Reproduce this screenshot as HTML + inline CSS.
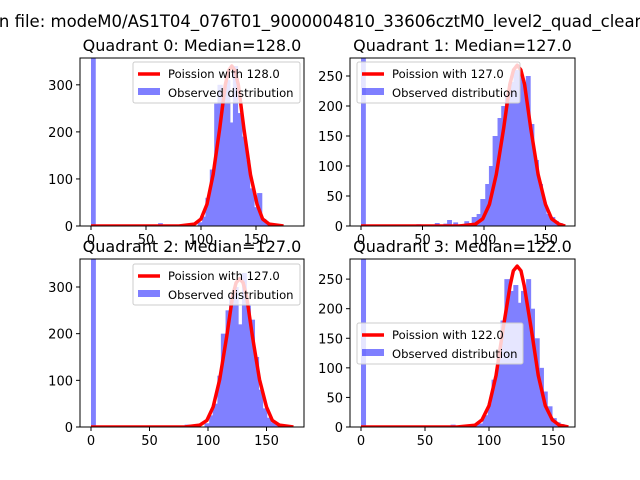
<!DOCTYPE html>
<html><head><meta charset="utf-8"><style>body{margin:0;background:#fff}svg{display:block;font-family:"DejaVu Sans","Liberation Sans",sans-serif}</style></head>
<body>
<svg id="c" width="640" height="480" xmlns="http://www.w3.org/2000/svg">
<rect width="640" height="480" fill="#fff"/>
<text x="-6" y="27" font-size="16.5" fill="#000">In file: modeM0/AS1T04_076T01_9000004810_33606cztM0_level2_quad_clean.evt</text>
</svg>
<script>
const titles=["Quadrant 0: Median=128.0","Quadrant 1: Median=127.0","Quadrant 2: Median=127.0","Quadrant 3: Median=122.0"];
const legendLabels=["Poission with 128.0","Poission with 127.0","Poission with 127.0","Poission with 122.0"];
const xTicks=[0,50,100,150];
const yTicks0=[0,100,200,300];
const yTicks1=[0,50,100,150,200,250];
const yTicks2=[0,100,200,300];
const yTicks3=[0,50,100,150,200,250];
const binWidths=[3.6,3.3,3.5,3.3];
const binStart0=[0,61,97,101,104,108,112,115,119,122,126,129,133,137,140,144,148,151,155,158];
const counts0=[400,6,8,20,60,120,260,300,280,310,220,340,240,190,140,80,40,70,15,5];
const binStart1=[0,25,45,60,67,70,75,80,84,87,90,94,97,101,104,107,111,114,117,120,124,127,130,134,137,140,144,147,150,154,157,160];
const counts1=[300,2,3,5,4,10,6,3,8,5,15,20,45,70,100,150,180,200,220,240,260,260,240,250,170,110,70,40,20,15,8,5];
const binStart2=[0,50,70,80,85,88,97,101,104,108,111,115,118,122,125,129,132,136,139,143,146,150,153,157];
const counts2=[400,3,3,5,5,3,8,25,50,110,200,250,280,300,220,330,260,230,150,80,40,20,10,5];
const binStart3=[0,70,88,92,95,99,102,106,109,112,116,119,122,125,129,132,135,139,142,145,149,152,155];
const counts3=[300,4,5,6,20,40,80,120,180,250,230,240,210,230,250,200,150,100,60,35,15,8,5];
const curveX0=[0,80,94,100,105.4,111,117,122,125,128,131,134,139,145,151,156,162,175];
const curveY0=[0,0,4,15,46,109,207,299,330,340,330,299,207,109,46,15,4,0];
const curveX1=[0,80,93,99,104.4,110,116,121,124,127,130,133,138,144,150,155,161,166];
const curveY1=[0,0,3,12,36,86,163,236,260,268,260,236,163,86,36,12,3,0];
const curveX2=[0,80,93,99,104.4,110,116,121,124,127,130,133,138,144,150,155,161,173];
const curveY2=[0,0,4,14,43,102,194,280,309,318,309,280,194,102,43,14,4,0];
const curveX3=[0,75,89,94.5,100,105.5,111,116.5,119,122,125,127.5,133,138.5,144,149.5,155,162];
const curveY3=[0,0,3,12,36,87,166,239,264,272,264,239,166,87,36,12,3,0];
const panels=[
 {l:80,r:304,t:58,b:226,x0:91,xs:1.1,ymax:357,yt:yTicks0,bs:binStart0,c:counts0,cx:curveX0,cy:curveY0,lg:[133,62]},
 {l:350,r:575,t:58,b:226,x0:361,xs:1.23,ymax:280,yt:yTicks1,bs:binStart1,c:counts1,cx:curveX1,cy:curveY1,lg:[357,62]},
 {l:80,r:304,t:259,b:427,x0:91,xs:1.17,ymax:360,yt:yTicks2,bs:binStart2,c:counts2,cx:curveX2,cy:curveY2,lg:[133,264]},
 {l:350,r:575,t:259,b:427,x0:361,xs:1.28,ymax:284,yt:yTicks3,bs:binStart3,c:counts3,cx:curveX3,cy:curveY3,lg:[357,323]}];
const svg=document.getElementById('c');const NS="http://www.w3.org/2000/svg";
function mk(tag,at,p){const e=document.createElementNS(NS,tag);for(const k in at)e.setAttribute(k,at[k]);(p||svg).appendChild(e);return e;}
panels.forEach((P,i)=>{
 const g=mk('g',{});
 
 
 const X=v=>P.x0+v*P.xs;const Y=v=>P.b-v*(P.b-P.t)/P.ymax;
 const cl='clip'+i;const cp=mk('clipPath',{id:cl},g);mk('rect',{x:P.l,y:P.t,width:P.r-P.l,height:P.b-P.t},cp);
 const bars=mk('g',{'clip-path':'url(#'+cl+')'},g);
 const bw=binWidths[i];
 P.bs.forEach((s,j)=>{const y=Y(P.c[j]);
  let w=bw;const nx=P.bs[j+1];if(nx!==undefined&&nx-s<1.5*bw)w=Math.max(bw,nx-s);
  const r=mk('rect',{x:X(s),y:y,width:w*P.xs+0.8,height:P.b-y,fill:'#8080ff'},bars);
  
  });
 const pts=P.cx.map((x,j)=>X(x)+','+Y(P.cy[j])).join(' ');
 const ln=mk('polyline',{points:pts,fill:'none',stroke:'#ff0000','stroke-width':3.5,'stroke-linejoin':'round'},bars);
 
 
 mk('rect',{x:P.l,y:P.t,width:P.r-P.l,height:P.b-P.t,fill:'none',stroke:'#000','stroke-width':1},g);
 xTicks.forEach(v=>{mk('line',{x1:X(v),x2:X(v),y1:P.b,y2:P.b+4,stroke:'#000'},g);
  const t=mk('text',{x:X(v),y:P.b+18,'font-size':13,'text-anchor':'middle'},g);t.textContent=v;
  
  });
 P.yt.forEach(v=>{mk('line',{x1:P.l-4,x2:P.l,y1:Y(v),y2:Y(v),stroke:'#000'},g);
  const t=mk('text',{x:P.l-7,y:Y(v)+5,'font-size':13,'text-anchor':'end'},g);t.textContent=v;
  
  });
 const tt=mk('text',{x:(P.l+P.r)/2,y:P.t-7,'font-size':16,'text-anchor':'middle'},g);tt.textContent=titles[i];
 
 
 const [lx,ly]=P.lg;const lg=mk('g',{},g);
 
 
 const w=(i==3?166:(i==1?163:167));
 mk('rect',{x:lx,y:ly,width:w,height:41,rx:2,fill:'#fff','fill-opacity':0.8,stroke:'#ccc'},lg);
 mk('line',{x1:lx+5,x2:lx+27,y1:ly+12,y2:ly+12,stroke:'#f00','stroke-width':3.5},lg);
 mk('rect',{x:lx+5,y:ly+26,width:22,height:7,fill:'#0000ff','fill-opacity':0.5},lg);
 const a=mk('text',{x:lx+35,y:ly+16,'font-size':11.6},lg);a.textContent=legendLabels[i];
 
 
 const b=mk('text',{x:lx+35,y:ly+35,'font-size':11.6},lg);b.textContent='Observed distribution';
 
 
});
</script>
</body></html>
